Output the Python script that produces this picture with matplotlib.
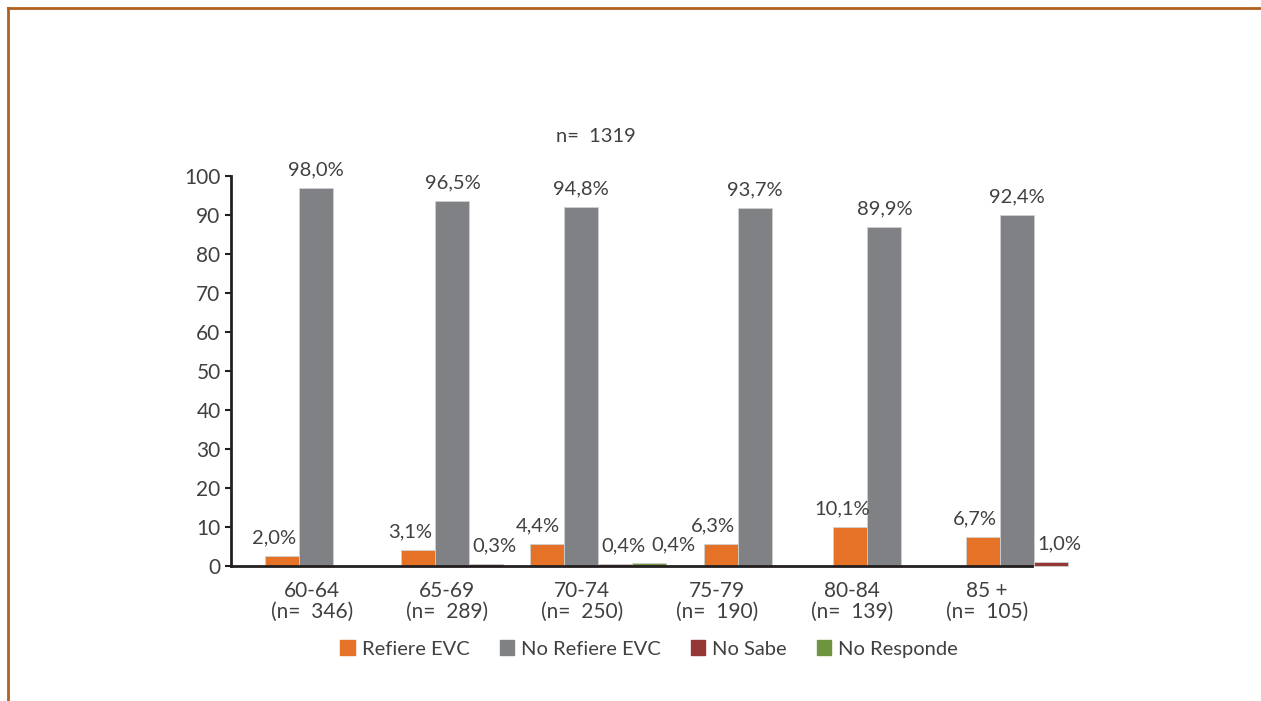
import numpy as np
import matplotlib
matplotlib.use('Agg')
import matplotlib.pyplot as plt
from matplotlib.lines import Line2D

plt.rcParams['font.family'] = ['Lato', 'DejaVu Sans']

# Data
groups = ['60-64\n(n=  346)', '65-69\n(n=  289)', '70-74\n(n=  250)',
          '75-79\n(n=  190)', '80-84\n(n=  139)', '85 +\n(n=  105)']
series = ['Refiere EVC', 'No Refiere EVC', 'No Sabe', 'No Responde']
refiere = [2.6, 4.0, 5.6, 5.6, 9.9, 7.4]
no_refiere = [96.9, 93.6, 92.1, 91.9, 87.0, 90.0]
no_sabe = [0, 0.5, 0.5, 0, 0, 1.0]
no_responde = [0, 0, 0.7, 0, 0, 0]
lbl_refiere = ['2,0%', '3,1%', '4,4%', '6,3%', '10,1%', '6,7%']
lbl_no_refiere = ['98,0%', '96,5%', '94,8%', '93,7%', '89,9%', '92,4%']
lbl_no_sabe = ['', '0,3%', '0,4%', '', '', '1,0%']
lbl_no_responde = ['', '', '0,4%', '', '', '']
total_label = 'n=  1319'

# layout: where each bar cluster sits relative to its tick (the original is uneven)
cluster_shift = [0.03, 0.04, -0.01, 0.28, 0.24, 0.22]

colors = ['#E57227', '#808184', '#953735', '#6F9440']
txt_color = '#404040'

fig = plt.figure(figsize=(12.61, 7.01), dpi=100)
ax = fig.add_axes([231 / 1261, 1 - 566 / 701, (1032 - 231) / 1261, (566 - 176) / 701])

x = np.arange(len(groups))
w = 0.252
centers = x + np.array(cluster_shift)
values = [refiere, no_refiere, no_sabe, no_responde]
labels = [lbl_refiere, lbl_no_refiere, lbl_no_sabe, lbl_no_responde]
offsets = [-1, 0, 1, 2]
label_dx = [-6, 0, 6, 18]

for vals, lbls, off, col, dx in zip(values, labels, offsets, colors, label_dx):
    vals = np.array(vals)
    xs = centers + off * w
    keep = vals > 0
    ax.bar(xs[keep], vals[keep], width=w, color=col, edgecolor='#d0d0d0',
           linewidth=0.6, clip_on=False, zorder=2)
    for xi, v, t in zip(xs, vals, lbls):
        if t:
            ax.annotate(t, (xi, v), xytext=(dx, 13), textcoords='offset points',
                        ha='center', va='center', fontsize=14.5, color=txt_color,
                        annotation_clip=False)

ax.set_xlim(-0.6, 5.333)
ax.set_ylim(0, 100)
ax.set_yticks(np.arange(0, 101, 10))
ax.set_xticks(x)
ax.set_xticklabels(groups, linespacing=1.1, multialignment='center')
ax.tick_params(axis='x', length=0, pad=10.5, labelsize=15, labelcolor=txt_color)
ax.tick_params(axis='y', length=4.5, width=1.5, pad=3, labelsize=15,
               labelcolor=txt_color, color='#231f20', direction='out')
for s in ['top', 'right']:
    ax.spines[s].set_visible(False)
for s in ['left', 'bottom']:
    ax.spines[s].set_linewidth(2)
    ax.spines[s].set_color('#231f20')
ax.spines['bottom'].set_zorder(3)

fig.text(596 / 1261, 1 - 136 / 701, total_label, ha='center', va='center',
         fontsize=14.5, color=txt_color)

handles = [plt.Rectangle((0, 0), 1, 1, color=c) for c in colors]
fig.legend(handles, series, loc='center', bbox_to_anchor=(649 / 1261, 1 - 649 / 701),
           ncol=4, frameon=False, fontsize=14.5, handlelength=0.7, handleheight=0.7,
           handletextpad=0.35, columnspacing=1.5, labelcolor=txt_color)

# decorative border on top and left
border = '#B0601F'
fig.add_artist(Line2D([8 / 1261, 1], [1 - 8 / 701, 1 - 8 / 701], color=border,
                      linewidth=2, transform=fig.transFigure))
fig.add_artist(Line2D([8 / 1261, 8 / 1261], [0, 1 - 8 / 701], color=border,
                      linewidth=2, transform=fig.transFigure))

fig.savefig('out.png', dpi=100, facecolor='white')
